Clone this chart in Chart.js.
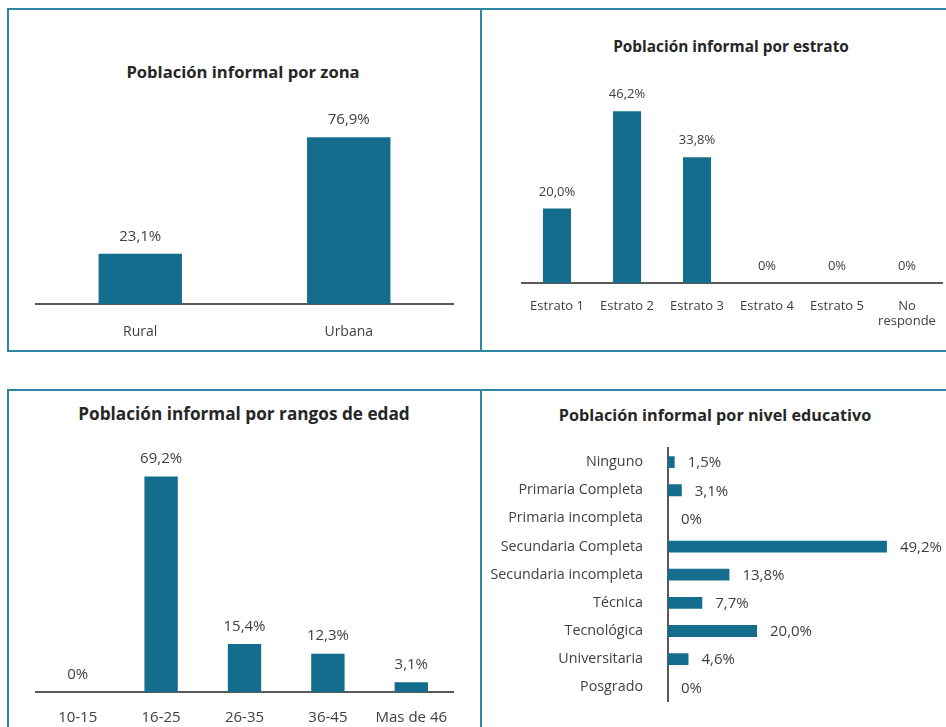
<!DOCTYPE html>
<html>
<head>
<meta charset="utf-8">
<script src="https://cdn.jsdelivr.net/npm/chart.js@4.4.1/dist/chart.umd.min.js"></script>
<style>
    body { margin: 0; background: #fff; width: 946px; height: 727px; overflow: hidden; position: relative; font-family: "Open Sans", Lato, sans-serif; }
    .line { position: absolute; background: #2f86a3; }
    .title { position: absolute; font-weight: bold; line-height: 20px; color: #262626; text-align: center; white-space: nowrap; transform: translateX(-50%); }
    canvas { position: absolute; }
</style>
</head>
<body>

<div class="line" style="left:7px; top:8px; width:939px; height:2px"></div>
<div class="line" style="left:7px; top:350px; width:939px; height:2px"></div>
<div class="line" style="left:7px; top:8px; width:2px; height:344px"></div>
<div class="line" style="left:480px; top:8px; width:2px; height:344px"></div>
<div class="line" style="left:7px; top:389px; width:939px; height:2px"></div>
<div class="line" style="left:7px; top:389px; width:2px; height:338px"></div>
<div class="line" style="left:480px; top:389px; width:2px; height:338px"></div>

<div class="title" style="left:243px; top:62px; font-size:16.6px">Población informal por zona</div>
<div class="title" style="left:731px; top:37px; font-size:15.4px">Población informal por estrato</div>
<div class="title" style="left:244px; top:404px; font-size:17.2px">Población informal por rangos de edad</div>
<div class="title" style="left:715px; top:405px; font-size:16.2px">Población informal por nivel educativo</div>

<canvas id="chart-zona" style="left:10px; top:10px" width="470" height="340"></canvas>
<canvas id="chart-estrato" style="left:482px; top:10px" width="464" height="340"></canvas>
<canvas id="chart-edad" style="left:10px; top:392px" width="470" height="335"></canvas>
<canvas id="chart-educ" style="left:482px; top:392px" width="464" height="335"></canvas>

<script>
const zonaLabels = ['Rural', 'Urbana']
const zonaValues = [23.1, 76.9]

const estratoLabels = ['Estrato 1', 'Estrato 2', 'Estrato 3', 'Estrato 4', 'Estrato 5', ['No', 'responde']]
const estratoValues = [20.0, 46.2, 33.8, 0, 0, 0]

const edadLabels = ['10-15', '16-25', '26-35', '36-45', 'Mas de 46']
const edadValues = [0, 69.2, 15.4, 12.3, 3.1]

const educLabels = ['Ninguno', 'Primaria Completa', 'Primaria incompleta', 'Secundaria Completa', 'Secundaria incompleta', 'Técnica', 'Tecnológica', 'Universitaria', 'Posgrado']
const educValues = [1.5, 3.1, 0, 49.2, 13.8, 7.7, 20.0, 4.6, 0]

const barColor = '#146d8c'
const axisColor = '#595959'
const textColor = '#404040'
const fontFamily = '"Open Sans", Lato, sans-serif'

const fmt = v => v === 0 ? '0%' : v.toFixed(1).replace('.', ',') + '%'

// draws the value labels next to each bar, size comes from chart options
const valueLabels = {
    id: 'valueLabels',
    afterDatasetsDraw(chart, args, opts) {
        const ctx = chart.ctx
        const horizontal = chart.options.indexAxis === 'y'
        const meta = chart.getDatasetMeta(0)
        ctx.save()
        ctx.fillStyle = textColor
        ctx.font = opts.size + 'px ' + fontFamily
        meta.data.forEach((bar, i) => {
            const v = chart.data.datasets[0].data[i]
            if (horizontal) {
                ctx.textAlign = 'left'
                ctx.textBaseline = 'middle'
                ctx.fillText(fmt(v), bar.x + 13, bar.y + 1)
            } else {
                ctx.textAlign = 'center'
                ctx.textBaseline = 'bottom'
                ctx.fillText(fmt(v), bar.x, bar.y - 10)
            }
        })
        ctx.restore()
    }
}

function columnChart(id, labels, values, yMax, padding, xHeight, tickPad, catSize, valSize) {
    return new Chart(document.getElementById(id), {
        type: 'bar',
        data: {
            labels: labels,
            datasets: [{
                data: values,
                backgroundColor: barColor,
                categoryPercentage: 1,
                barPercentage: 0.4
            }]
        },
        options: {
            responsive: false,
            animation: false,
            layout: { padding: padding },
            plugins: { legend: { display: false }, tooltip: { enabled: false }, valueLabels: { size: valSize } },
            scales: {
                x: {
                    grid: { display: false },
                    border: { display: true, color: axisColor, width: 2 },
                    ticks: { color: textColor, font: { family: fontFamily, size: catSize }, padding: tickPad, maxRotation: 0 },
                    afterFit: scale => { scale.height = xHeight }
                },
                y: { display: false, min: 0, max: yMax }
            }
        },
        plugins: [valueLabels]
    })
}

columnChart('chart-zona', zonaLabels, zonaValues, 100, { left: 26, right: 27, top: 77, bottom: 0 }, 46, 12, 14, 15)
columnChart('chart-estrato', estratoLabels, estratoValues, 50, { left: 40, right: 4, top: 87, bottom: 0 }, 67, 7, 13, 13)
columnChart('chart-edad', edadLabels, edadValues, 80, { left: 26, right: 27, top: 51, bottom: 0 }, 35, 9, 15, 15)

new Chart(document.getElementById('chart-educ'), {
    type: 'bar',
    data: {
        labels: educLabels,
        datasets: [{
            data: educValues,
            backgroundColor: barColor,
            categoryPercentage: 1,
            barPercentage: 0.42
        }]
    },
    options: {
        indexAxis: 'y',
        responsive: false,
        animation: false,
        layout: { padding: { left: 0, right: 11, top: 56, bottom: 21 } },
        plugins: { legend: { display: false }, tooltip: { enabled: false }, valueLabels: { size: 15 } },
        scales: {
            y: {
                grid: { display: false },
                border: { display: true, color: axisColor, width: 2 },
                ticks: { color: textColor, font: { family: fontFamily, size: 14.3 }, padding: 17 },
                afterFit: scale => { scale.width = 186 }
            },
            x: { display: false, min: 0, max: 60 }
        }
    },
    plugins: [valueLabels]
})
</script>
</body>
</html>
